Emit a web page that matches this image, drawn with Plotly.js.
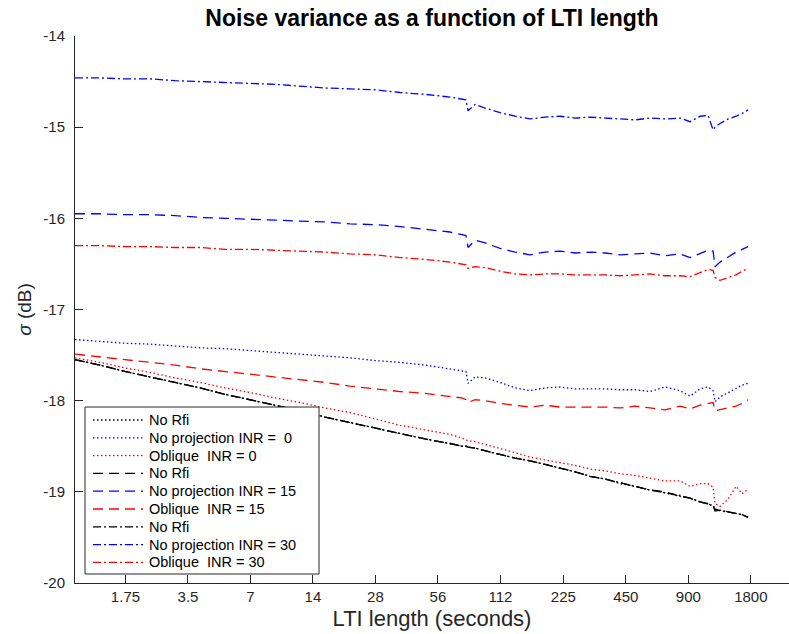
<!DOCTYPE html>
<html>
<head>
<meta charset="utf-8">
<script src="https://cdn.plot.ly/plotly-3.0.1.min.js"></script>
<style>html,body{margin:0;padding:0;background:#fff;}#chart{width:789px;height:634px;}</style>
</head>
<body>
<div id="chart"></div>
<script>
// LTI length (seconds)
const lti = [1, 1.32, 1.74, 2.30, 3.03, 4.0, 5.28, 6.97, 9.19, 12.1, 16.0, 21.1, 27.9, 36.8, 48.5, 64.0, 73.1, 76.4, 78.2, 84.5, 94.4, 111.5, 131.7, 155.5, 183.7, 216.9, 256.2, 302.5, 357.3, 421.9, 498.3, 588.5, 695, 821, 917, 1025, 1120, 1184, 1210, 1279, 1398, 1528, 1633, 1745];

// sigma (dB) per series
const noRfi0  = [-17.55,-17.61,-17.68,-17.74,-17.80,-17.86,-17.93,-17.99,-18.05,-18.11,-18.18,-18.24,-18.30,-18.36,-18.42,-18.47,-18.50,-18.50,-18.51,-18.52,-18.55,-18.59,-18.63,-18.66,-18.70,-18.74,-18.78,-18.83,-18.86,-18.91,-18.94,-18.98,-19.01,-19.05,-19.07,-19.11,-19.13,-19.15,-19.19,-19.20,-19.22,-19.24,-19.25,-19.28];
const noProj0 = [-17.33,-17.35,-17.37,-17.38,-17.40,-17.42,-17.43,-17.45,-17.47,-17.49,-17.51,-17.53,-17.56,-17.58,-17.61,-17.65,-17.67,-17.68,-17.81,-17.74,-17.75,-17.80,-17.86,-17.89,-17.86,-17.85,-17.87,-17.87,-17.87,-17.88,-17.88,-17.90,-17.85,-17.89,-17.95,-17.87,-17.85,-17.89,-18.01,-17.96,-17.91,-17.86,-17.83,-17.81];
const obl0    = [-17.53,-17.58,-17.64,-17.69,-17.75,-17.80,-17.86,-17.91,-17.97,-18.02,-18.08,-18.13,-18.20,-18.27,-18.32,-18.37,-18.41,-18.43,-18.44,-18.45,-18.48,-18.52,-18.57,-18.62,-18.65,-18.68,-18.71,-18.75,-18.77,-18.80,-18.82,-18.85,-18.88,-18.88,-18.94,-18.91,-18.91,-18.95,-19.13,-19.16,-19.08,-18.94,-19.02,-18.97];
const noRfi15 = [-17.55,-17.61,-17.68,-17.74,-17.80,-17.86,-17.93,-17.99,-18.05,-18.11,-18.18,-18.24,-18.30,-18.36,-18.42,-18.47,-18.50,-18.50,-18.51,-18.52,-18.55,-18.59,-18.63,-18.66,-18.70,-18.74,-18.78,-18.83,-18.86,-18.90,-18.94,-18.98,-19.00,-19.05,-19.07,-19.11,-19.13,-19.15,-19.21,-19.20,-19.22,-19.24,-19.25,-19.28];
const noProj15= [-15.95,-15.95,-15.96,-15.96,-15.97,-15.99,-16.00,-16.01,-16.02,-16.03,-16.04,-16.06,-16.07,-16.09,-16.12,-16.15,-16.18,-16.19,-16.32,-16.24,-16.27,-16.33,-16.37,-16.40,-16.37,-16.36,-16.38,-16.37,-16.38,-16.40,-16.39,-16.38,-16.41,-16.39,-16.43,-16.39,-16.35,-16.36,-16.53,-16.48,-16.42,-16.37,-16.34,-16.31];
const obl15   = [-17.49,-17.52,-17.55,-17.58,-17.61,-17.65,-17.68,-17.71,-17.74,-17.77,-17.80,-17.84,-17.87,-17.90,-17.92,-17.95,-17.97,-17.99,-18.02,-17.99,-18.00,-18.03,-18.05,-18.07,-18.05,-18.07,-18.07,-18.07,-18.07,-18.08,-18.06,-18.08,-18.10,-18.06,-18.09,-18.05,-18.03,-18.02,-18.11,-18.10,-18.08,-18.06,-18.03,-17.99];
const noRfi30 = [-17.55,-17.61,-17.68,-17.74,-17.80,-17.86,-17.93,-17.99,-18.05,-18.11,-18.18,-18.24,-18.30,-18.36,-18.42,-18.47,-18.50,-18.50,-18.51,-18.52,-18.55,-18.59,-18.63,-18.66,-18.70,-18.74,-18.78,-18.83,-18.86,-18.90,-18.94,-18.98,-19.01,-19.04,-19.07,-19.11,-19.13,-19.16,-19.19,-19.21,-19.22,-19.24,-19.25,-19.28];
const noProj30= [-14.46,-14.46,-14.47,-14.47,-14.49,-14.50,-14.51,-14.52,-14.53,-14.55,-14.57,-14.58,-14.59,-14.62,-14.64,-14.67,-14.69,-14.70,-14.82,-14.75,-14.79,-14.84,-14.88,-14.91,-14.89,-14.88,-14.90,-14.89,-14.90,-14.91,-14.92,-14.90,-14.91,-14.90,-14.94,-14.88,-14.87,-15.03,-15.00,-14.96,-14.91,-14.88,-14.85,-14.81];
const obl30   = [-16.30,-16.30,-16.31,-16.31,-16.32,-16.32,-16.34,-16.34,-16.35,-16.36,-16.37,-16.39,-16.40,-16.43,-16.45,-16.48,-16.50,-16.51,-16.55,-16.53,-16.54,-16.58,-16.61,-16.62,-16.61,-16.61,-16.62,-16.62,-16.62,-16.63,-16.62,-16.61,-16.63,-16.63,-16.64,-16.60,-16.56,-16.57,-16.65,-16.68,-16.65,-16.62,-16.58,-16.55];

const seriesNames = ['No Rfi', 'No projection INR =  0', 'Oblique  INR = 0', 'No Rfi', 'No projection INR = 15', 'Oblique  INR = 15', 'No Rfi', 'No projection INR = 30', 'Oblique  INR = 30'];
const seriesData = [noRfi0, noProj0, obl0, noRfi15, noProj15, obl15, noRfi30, noProj30, obl30];

const tickVals = [1.75, 3.5, 7, 14, 28, 56, 112, 225, 450, 900, 1800];
const tickText = ['1.75', '3.5', '7', '14', '28', '56', '112', '225', '450', '900', '1800'];
const yTicks = [-20, -19, -18, -17, -16, -15, -14];

const colors = ['#000000', '#0000ff', '#ff0000'];
const dashes = ['1.5px,2.5px', '10px,6px', '8px,3px,2px,3px'];

const FONT = '"Liberation Sans", Arial, Helvetica, sans-serif';
const W = 789, H = 634, ML = 75, MR = 0, MT = 36, MB = 51;
const pw = W - ML - MR, ph = H - MT - MB;
const px2x = p => (p - ML) / pw;
const px2y = p => (H - MB - p) / ph;

const traces = seriesData.map((y, i) => ({
  x: lti, y: y, type: 'scatter', mode: 'lines', name: seriesNames[i], showlegend: false,
  line: {color: colors[i % 3], width: 1.3, dash: dashes[Math.floor(i / 3)]}
}));

// hand-built legend box (matches the boxed legend of the original)
const shapes = [{type: 'rect', xref: 'paper', yref: 'paper', x0: px2x(85), x1: px2x(319), y0: px2y(574), y1: px2y(407),
                 line: {color: '#262626', width: 1}, fillcolor: '#ffffff', layer: 'above'}];
const annotations = [];
const rowTop = 420, rowStep = 17.8;
seriesNames.forEach((nm, i) => {
  const yy = px2y(rowTop + i * rowStep);
  shapes.push({type: 'line', xref: 'paper', yref: 'paper', x0: px2x(93), x1: px2x(143), y0: yy, y1: yy,
               line: {color: colors[i % 3], width: 1.3, dash: dashes[Math.floor(i / 3)]}, layer: 'above'});
  annotations.push({xref: 'paper', yref: 'paper', x: px2x(147), y: yy, xanchor: 'left', yanchor: 'middle',
                    text: nm.replace(/ /g, '&nbsp;').replace(/&nbsp;/, ' '), showarrow: false,
                    font: {family: FONT, size: 14.5, color: '#000000'}});
});

const layout = {
  width: W, height: H,
  margin: {l: ML, r: MR, t: MT, b: MB},
  paper_bgcolor: '#ffffff', plot_bgcolor: '#ffffff',
  font: {family: FONT, color: '#262626'},
  title: {text: '<b>Noise variance as a function of LTI length</b>', font: {family: FONT, size: 23, color: '#000000'},
          x: 0.5, xref: 'paper', y: 0.972, yref: 'container', yanchor: 'middle'},
  xaxis: {type: 'log', range: [0, 3.439], tickvals: tickVals, ticktext: tickText,
          ticks: 'inside', ticklen: 8, tickcolor: '#262626', showline: true, linecolor: '#262626', linewidth: 1,
          showgrid: false, zeroline: false, tickfont: {size: 15, color: '#262626'},
          title: {text: 'LTI length (seconds)', font: {size: 22, color: '#262626'}, standoff: 6}},
  yaxis: {range: [-20, -14], tickvals: yTicks, ticktext: yTicks.map(String),
          ticks: 'inside', ticklen: 8, tickcolor: '#262626', showline: true, linecolor: '#262626', linewidth: 1,
          showgrid: false, zeroline: false, tickfont: {size: 15, color: '#262626'}, ticklabelstandoff: 6,
          title: {text: '<i>σ</i> (dB)', font: {size: 19, color: '#262626'}, standoff: 6}},
  showlegend: false,
  shapes: shapes,
  annotations: annotations
};

Plotly.newPlot('chart', traces, layout, {staticPlot: true, displayModeBar: false});
</script>
</body>
</html>
